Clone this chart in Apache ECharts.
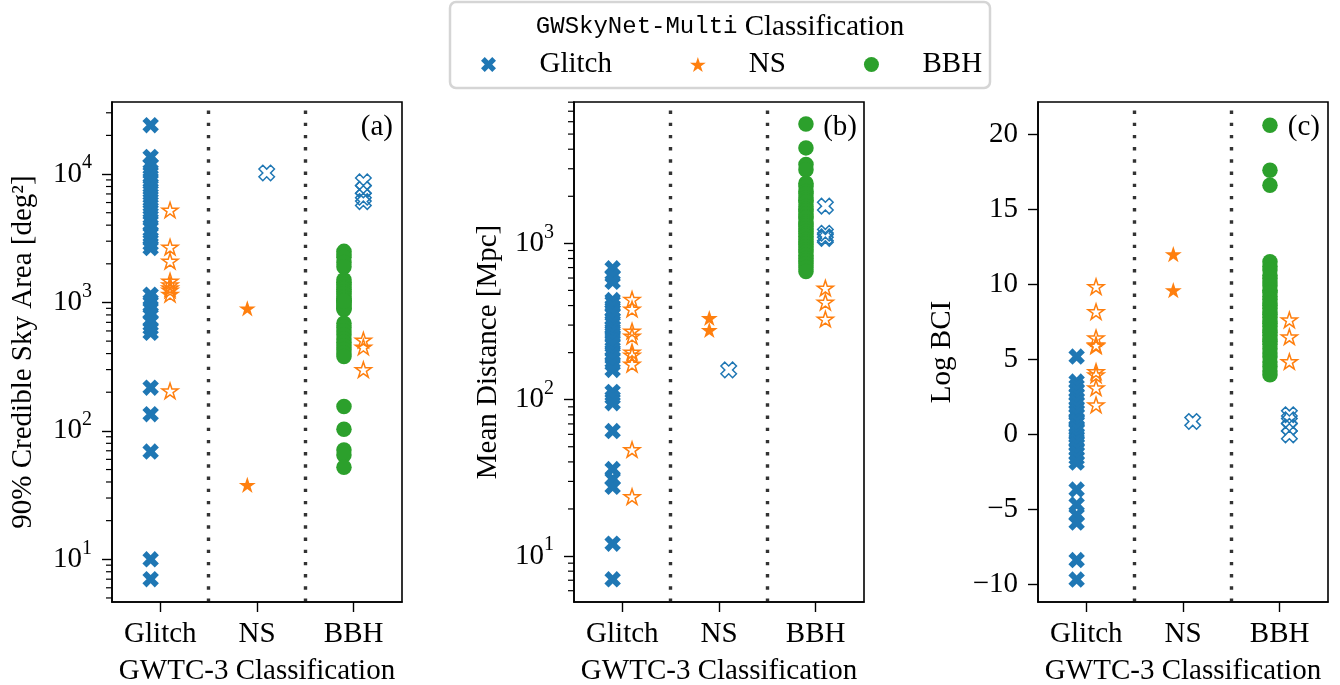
<!DOCTYPE html>
<html>
<head>
<meta charset="utf-8">
<script src="https://cdn.jsdelivr.net/npm/echarts@6/dist/echarts.min.js"></script>
<style>
  html, body { margin: 0; padding: 0; background: #ffffff; }
  #chart { width: 1340px; height: 685px; }
</style>
</head>
<body>
<div id="chart"></div>
<script>
// GWTC-3 classes on the x axis of every panel
const classes = ['Glitch', 'NS', 'BBH'];

// ---- Panel (a): 90% credible sky area [deg^2] ----
// naming: <panel><GWTC-3 class>As<GWSkyNet-Multi class>
const areaGlitchAsGlitch = [24000, 13600, 11800, 10600, 9600, 8800, 8000, 7300, 6600, 6000, 5400, 4900, 4400,
  3950, 3500, 3150, 2850, 2650, 1150, 1030, 920, 820, 720, 630, 580, 217, 135, 69, 10, 7];
const areaGlitchAsNs = [5250, 2700, 2100, 1470, 1370, 1300, 1250, 1160, 205];
const areaNsAsNs = [900, 38];
const areaNsAsGlitch = [10200];
const areaBbhAsBbh = [2500, 2350, 2250, 2050, 1900, 1500, 1440, 1380, 1310, 1270, 1210, 1170, 1110, 1080, 1040,
  1000, 960, 940, 900, 880, 690, 640, 600, 560, 520, 490, 460, 430, 405, 380, 155, 103, 71, 65, 52, 1020];
const areaBbhAsGlitch = [8700, 7600, 6600, 6100];
const areaBbhAsNs = [510, 450, 300];
const areaMajorTicks = [10, 100, 1000, 10000];
const areaRange = [4.65, 36400];

// ---- Panel (b): mean distance [Mpc] ----
const distGlitchAsGlitch = [692, 620, 568, 434, 420, 395, 370, 357, 330, 308, 290, 280, 265, 252, 240, 227, 205,
  195, 185, 169, 155, 112, 103, 95, 63, 36, 31, 27.7, 12, 7.1];
const distGlitchAsNs = [438, 380, 275, 255, 202, 193, 169, 48, 24];
const distNsAsNs = [333, 279];
const distNsAsGlitch = [155];
const distBbhAsBbh = [5800, 4080, 3190, 2960, 2420, 2310, 2150, 2080, 1960, 1890, 1840, 1720, 1650, 1610, 1540,
  1480, 1450, 1370, 1330, 1290, 1240, 1190, 1150, 1110, 1060, 1020, 990, 950, 910, 880, 840, 800, 770, 740, 700, 660];
const distBbhAsGlitch = [1730, 1160, 1100, 1076];
const distBbhAsNs = [518, 421, 328];
const distMajorTicks = [10, 100, 1000];
const distRange = [5.08, 8020];

// ---- Panel (c): Log BCI ----
const bciGlitchAsGlitch = [5.17, 3.5, 3.2, 2.9, 2.6, 2.3, 2.1, 1.8, 1.5, 1.3, 1.0, 0.9, 0.8, 0.5, 0.3, 0.0, -0.2,
  -0.4, -0.5, -0.7, -1.0, -1.3, -1.6, -1.9, -3.7, -4.7, -5.4, -5.9, -8.4, -9.7];
const bciGlitchAsNs = [9.84, 8.17, 6.42, 5.95, 5.89, 4.17, 3.95, 3.09, 1.95];
const bciNsAsNs = [12.0, 9.6];
const bciNsAsGlitch = [0.84];
const bciBbhAsBbh = [20.6, 17.6, 16.6, 11.5, 11.2, 10.95, 10.6, 10.4, 10.15, 9.9, 9.6, 9.45, 9.2, 9.0, 8.75, 8.6,
  8.4, 8.15, 8.0, 7.8, 7.55, 7.4, 7.2, 6.95, 6.8, 6.6, 6.35, 6.2, 6.0, 5.7, 5.4, 5.15, 4.8, 4.5, 4.2, 3.95];
const bciBbhAsGlitch = [1.29, 0.95, 0.47, -0.05];
const bciBbhAsNs = [7.62, 6.49, 4.84];
const bciMajorTicks = [-10, -5, 0, 5, 10, 15, 20];
const bciRange = [-11.2, 22.15];

// ---- styling ----
const COLORS = { Glitch: '#1f77b4', NS: '#ff7f0e', BBH: '#2ca02c' };
const SERIF = "'Liberation Serif', 'DejaVu Serif', serif";
const MONO = "'Liberation Mono', 'DejaVu Sans Mono', monospace";
const FS = 29;
const GRID_TOP = 102, GRID_H = 500, GRID_W = 290;
const GRID_LEFTS = [112, 574, 1038];

// filled "X" marker outline
const X_SYMBOL = 'path://M-1,-2L0,-1L1,-2L2,-1L1,0L2,1L1,2L0,1L-1,2L-2,1L-1,0L-2,-1Z';
// five-pointed star marker outline
const STAR_SYMBOL = (function () {
  let d = '';
  for (let i = 0; i < 10; i++) {
    const r = i % 2 === 0 ? 1 : 0.381966;
    const a = Math.PI / 2 + i * Math.PI / 5;
    d += (i ? 'L' : 'M') + (r * Math.cos(a)).toFixed(4) + ',' + (-r * Math.sin(a)).toFixed(4);
  }
  return 'path://' + d + 'Z';
})();
const SYMBOLS = {
  Glitch: { symbol: X_SYMBOL, size: 16.5, hollow: 15.5 },
  NS: { symbol: STAR_SYMBOL, size: 17, hollow: 16 },
  BBH: { symbol: 'circle', size: 15.5, hollow: 15 }
};

function pts(cls, values) { return values.map(v => [cls, v]); }

// agreeing classifications: filled marker, left of the category centre
function filledSeries(panel, pred, data) {
  return {
    type: 'scatter', name: pred, xAxisIndex: panel, yAxisIndex: panel,
    symbol: SYMBOLS[pred].symbol, symbolSize: SYMBOLS[pred].size, symbolKeepAspect: true,
    symbolOffset: [-9.7, 0],
    itemStyle: { color: COLORS[pred], opacity: 1 },
    data: data, silent: true, z: 3
  };
}
// disagreeing classifications: hollow marker, right of the category centre
function hollowSeries(panel, pred, data) {
  return {
    type: 'scatter', name: pred + ' (other GWTC-3 class)', xAxisIndex: panel, yAxisIndex: panel,
    symbol: SYMBOLS[pred].symbol, symbolSize: SYMBOLS[pred].hollow, symbolKeepAspect: true,
    symbolOffset: [9.7, 0],
    itemStyle: { color: 'rgba(255,255,255,0)', borderColor: COLORS[pred], borderWidth: 1.5, opacity: 1 },
    data: data, silent: true, z: 4
  };
}

// minor ticks on the logarithmic axes, drawn on the axis through its own scale
function minorTickValues(range) {
  const out = [];
  const lo = Math.floor(Math.log10(range[0])), hi = Math.ceil(Math.log10(range[1]));
  for (let e = lo; e <= hi; e++) {
    for (let m = 2; m <= 9; m++) {
      const v = m * Math.pow(10, e);
      if (v >= range[0] && v <= range[1]) out.push(v);
    }
  }
  return out;
}
function minorTickSeries(panel, range) {
  return {
    type: 'custom', xAxisIndex: panel, yAxisIndex: panel, silent: true, clip: false, z: 5,
    data: minorTickValues(range).map(v => ['Glitch', v]),
    renderItem(params, api) {
      const y = api.coord([0, api.value(1)])[1];
      const x = params.coordSys.x;
      return { type: 'line', shape: { x1: x - 6, y1: y, x2: x, y2: y },
               style: { stroke: '#000', lineWidth: 1.2 } };
    }
  };
}

const axisLineStyle = { color: '#000', width: 1.6 };
const tickStyle = { color: '#000', width: 1.4 };

function xAxis(panel) {
  return {
    type: 'category', gridIndex: panel, data: classes, boundaryGap: true,
    axisLine: { show: true, onZero: false, lineStyle: axisLineStyle },
    axisTick: { show: true, alignWithLabel: true, length: 10, lineStyle: tickStyle, interval: 0 },
    axisLabel: { interval: 0, margin: 18, color: '#000', fontFamily: SERIF, fontSize: FS },
    splitLine: {
      show: true, interval: 0, showMinLine: false, showMaxLine: false,
      lineStyle: { color: '#333333', width: 3.4, type: [3.4, 8.8], dashOffset: 3.7, cap: 'butt' }
    },
    name: 'GWTC-3 Classification', nameLocation: 'middle', nameGap: 55,
    nameTextStyle: { color: '#000', fontFamily: SERIF, fontSize: FS }
  };
}

const powRich = {
  b: { fontFamily: SERIF, fontSize: FS, lineHeight: 42, color: '#000' },
  s: { fontFamily: SERIF, fontSize: 20, lineHeight: 23, verticalAlign: 'top', color: '#000' }
};

function logYAxis(panel, range, majors, name, nameGap) {
  return {
    type: 'log', logBase: 10, gridIndex: panel, min: range[0], max: range[1],
    axisLine: { show: true, lineStyle: axisLineStyle },
    axisTick: { show: true, length: 10, lineStyle: tickStyle, customValues: majors },
    minorTick: { show: false },
    splitLine: { show: false },
    axisLabel: {
      customValues: majors, margin: 20, color: '#000', fontFamily: SERIF, fontSize: FS,
      formatter: v => '{b|10}{s|' + Math.round(Math.log10(v)) + '}',
      rich: powRich
    },
    name: name, nameLocation: 'middle', nameGap: nameGap,
    nameTextStyle: { color: '#000', fontFamily: SERIF, fontSize: FS }
  };
}

const yAxes = [
  logYAxis(0, areaRange, areaMajorTicks, '90% Credible Sky Area [deg²]', 74),
  logYAxis(1, distRange, distMajorTicks, 'Mean Distance [Mpc]', 71),
  {
    type: 'value', gridIndex: 2, min: bciRange[0], max: bciRange[1],
    axisLine: { show: true, lineStyle: axisLineStyle },
    axisTick: { show: true, length: 10, lineStyle: tickStyle, customValues: bciMajorTicks },
    splitLine: { show: false },
    axisLabel: {
      customValues: bciMajorTicks, margin: 20, color: '#000', fontFamily: SERIF, fontSize: FS,
      formatter: v => (v < 0 ? '\u2212' + Math.abs(v) : String(v))
    },
    name: 'Log BCI', nameLocation: 'middle', nameGap: 81,
    nameTextStyle: { color: '#000', fontFamily: SERIF, fontSize: FS }
  }
];

const panels = [
  { gg: areaGlitchAsGlitch, gn: areaGlitchAsNs, nn: areaNsAsNs, ng: areaNsAsGlitch, bb: areaBbhAsBbh, bg: areaBbhAsGlitch, bn: areaBbhAsNs },
  { gg: distGlitchAsGlitch, gn: distGlitchAsNs, nn: distNsAsNs, ng: distNsAsGlitch, bb: distBbhAsBbh, bg: distBbhAsGlitch, bn: distBbhAsNs },
  { gg: bciGlitchAsGlitch, gn: bciGlitchAsNs, nn: bciNsAsNs, ng: bciNsAsGlitch, bb: bciBbhAsBbh, bg: bciBbhAsGlitch, bn: bciBbhAsNs }
];

const series = [];
panels.forEach((p, i) => {
  series.push(filledSeries(i, 'Glitch', pts('Glitch', p.gg)));
  series.push(filledSeries(i, 'NS', pts('NS', p.nn)));
  series.push(filledSeries(i, 'BBH', pts('BBH', p.bb)));
  series.push(hollowSeries(i, 'Glitch', pts('NS', p.ng).concat(pts('BBH', p.bg))));
  series.push(hollowSeries(i, 'NS', pts('Glitch', p.gn).concat(pts('BBH', p.bn))));
});
series.push(minorTickSeries(0, areaRange));
series.push(minorTickSeries(1, distRange));

const letters = ['(a)', '(b)', '(c)'];
const letterRight = [393, 857, 1320];

const option = {
  animation: false,
  backgroundColor: '#ffffff',
  grid: GRID_LEFTS.map(left => ({
    left: left, top: GRID_TOP, width: GRID_W, height: GRID_H,
    containLabel: false, outerBoundsMode: 'none',
    show: true, borderColor: '#000', borderWidth: 1.6, backgroundColor: 'rgba(0,0,0,0)'
  })),
  xAxis: [xAxis(0), xAxis(1), xAxis(2)],
  yAxis: yAxes,
  legend: {
    data: classes, left: 481, top: 50, padding: 0,
    itemWidth: 92, itemHeight: 15, itemGap: 78, selectedMode: false, z: 10,
    textStyle: { color: '#000', fontFamily: SERIF, fontSize: FS }
  },
  graphic: [
    {
      type: 'rect', z: 1, silent: true,
      shape: { x: 450, y: 2, width: 540, height: 86, r: 6 },
      style: { fill: '#ffffff', stroke: '#d5d5d5', lineWidth: 2.5 }
    },
    {
      type: 'text', z: 2, silent: true, x: 720, y: 27,
      style: {
        text: '{m|GWSkyNet-Multi}{r| Classification}',
        align: 'center', verticalAlign: 'middle',
        rich: {
          m: { fontFamily: MONO, fontSize: 24, fill: '#000', color: '#000' },
          r: { fontFamily: SERIF, fontSize: FS, fill: '#000', color: '#000' }
        }
      }
    }
  ].concat(letters.map((t, i) => ({
    type: 'text', z: 10, silent: true, x: letterRight[i], y: 127,
    style: { text: t, align: 'right', verticalAlign: 'middle', font: FS + 'px ' + SERIF, fill: '#000' }
  }))),
  series: series
};

const chart = echarts.init(document.getElementById('chart'), null, { renderer: 'canvas' });
chart.setOption(option);
</script>
</body>
</html>
